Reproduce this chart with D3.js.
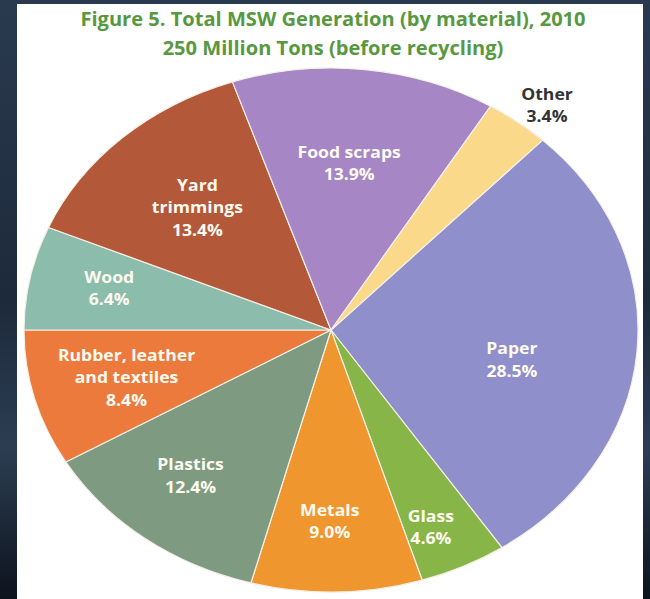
<!DOCTYPE html>
<html>
<head>
<meta charset="utf-8">
<script src="https://cdn.jsdelivr.net/npm/d3@7"></script>
<style>
  html, body { margin: 0; padding: 0; }
  body { width: 650px; height: 599px; overflow: hidden; background: #1c2838; }
  svg { display: block; }
</style>
</head>
<body>
<div id="chart"></div>
<script>
/* Chart data */
const categories = ["Paper", "Glass", "Metals", "Plastics", "Rubber, leather and textiles",
  "Wood", "Yard trimmings", "Food scraps", "Other"]
const shares = [28.5, 4.6, 9.0, 12.4, 8.4, 6.4, 13.4, 13.9, 3.4]
const labelLines = [
  ["Paper"], ["Glass"], ["Metals"], ["Plastics"], ["Rubber, leather", "and textiles"],
  ["Wood"], ["Yard", "trimmings"], ["Food scraps"], ["Other"]
]
const sliceColors = ["#8e8fcb", "#88b548", "#ef962f", "#7e9b82", "#eb7a3c",
  "#8bbcac", "#b4583a", "#a686c4", "#fbd98b"]
const titleLines = ["Figure 5. Total MSW Generation (by material), 2010",
  "250 Million Tons (before recycling)"]
/* End chart data */

const width = 650
const height = 599

// label placement: fraction of the radius, and a small turn (degrees) off the slice middle
const labelRadius = [0.60, 0.82, 0.73, 0.72, 0.69, 0.74, 0.64, 0.64, 1.11]
const labelTurn = [6, 2.2, 1.4, 2, 0, 1, 0, -1, 1.9]

// the original picture is stretched sideways
const stretchX = 1.1

const svg = d3.select("#chart").append("svg")
    .attr("width", width)
    .attr("height", height)

const defs = svg.append("defs")
const bg = defs.append("linearGradient")
    .attr("id", "bg")
    .attr("x1", "0%").attr("x2", "0%")
    .attr("y1", "0%").attr("y2", "100%")
bg.append("stop").attr("offset", 0).attr("stop-color", "#2a3a4e")
bg.append("stop").attr("offset", 0.5).attr("stop-color", "#1d2a3c")
bg.append("stop").attr("offset", 0.75).attr("stop-color", "#2c3d52")
bg.append("stop").attr("offset", 1).attr("stop-color", "#0c131d")

svg.append("rect")
    .attr("width", width)
    .attr("height", height)
    .attr("fill", "url(#bg)")

// white panel
svg.append("rect")
    .attr("x", 17)
    .attr("y", 4)
    .attr("width", 626)
    .attr("height", height - 4)
    .attr("fill", "#ffffff")

// titles
svg.selectAll("text.title")
  .data(titleLines)
  .join("text")
    .attr("class", "title")
    .attr("transform", (d, i) => `translate(333,${26 + i * 29}) scale(1.03,1)`)
    .attr("text-anchor", "middle")
    .attr("font-family", "'Open Sans', sans-serif")
    .attr("font-weight", "bold")
    .attr("font-size", 19.5)
    .attr("fill", "#58983f")
    .text(d => d)

// pie (drawn as an ellipse, like the stretched original)
const cx = 331
const cy = 330
const rx = 307
const ry = 262

// rotate so that the Wood / Rubber boundary lies horizontal on the left
const total = d3.sum(shares)
const beforeWood = d3.sum(shares.slice(0, 5))
const startAngle = 1.5 * Math.PI - 2 * Math.PI * beforeWood / total

const pie = d3.pie()
    .sort(null)
    .value(d => d)
    .startAngle(startAngle)
    .endAngle(startAngle + 2 * Math.PI)

const arcs = pie(shares)

const arc = d3.arc()
    .innerRadius(0)
    .outerRadius(rx)

svg.append("g")
    .attr("transform", `translate(${cx},${cy}) scale(1,${ry / rx})`)
  .selectAll("path")
  .data(arcs)
  .join("path")
    .attr("d", arc)
    .attr("fill", (d, i) => sliceColors[i])
    .attr("stroke", "#f4efe6")
    .attr("stroke-width", 1.2)
    .attr("vector-effect", "non-scaling-stroke")

// labels
const labels = svg.append("g")
  .selectAll("text")
  .data(arcs)
  .join("text")
    .attr("text-anchor", "middle")
    .attr("font-family", "'Open Sans', sans-serif")
    .attr("font-weight", "bold")
    .attr("font-size", 16)
    .attr("fill", (d, i) => labelRadius[i] > 1 ? "#333333" : "#fdfaf0")
    .attr("transform", (d, i) => {
      const a = (d.startAngle + d.endAngle) / 2 + labelTurn[i] * Math.PI / 180
      const r = labelRadius[i]
      const x = cx + Math.sin(a) * rx * r
      const y = cy - Math.cos(a) * ry * r
      return `translate(${x},${y}) scale(${stretchX},1)`
    })

labels.each(function(d, i) {
  const lines = labelLines[i].concat([d3.format(".1f")(shares[i]) + "%"])
  const lineHeight = 22.5
  const top = -(lines.length - 1) * lineHeight / 2 + 6
  d3.select(this).selectAll("tspan")
    .data(lines)
    .join("tspan")
      .attr("x", 0)
      .attr("y", (l, j) => top + j * lineHeight)
      .text(l => l)
})
</script>
</body>
</html>
